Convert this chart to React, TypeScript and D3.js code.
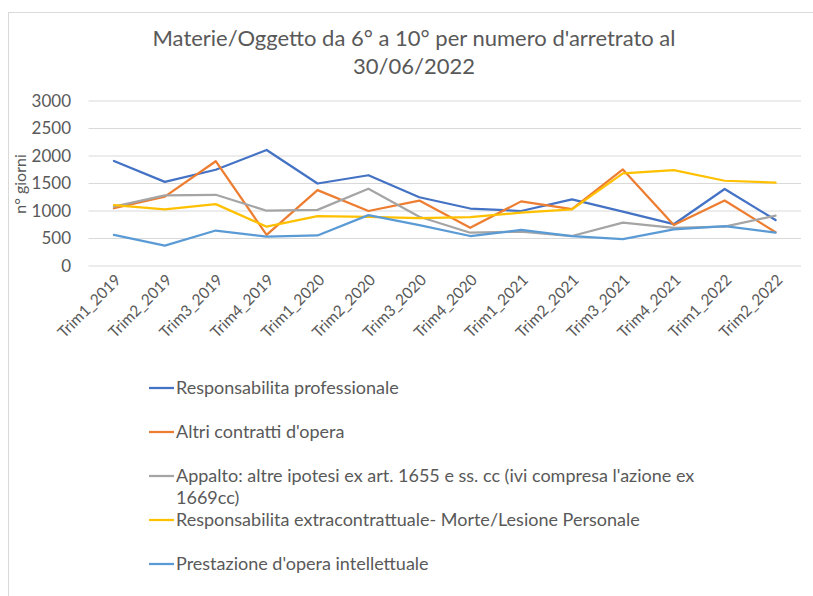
import React, { useEffect, useRef } from 'react';
import * as d3 from 'd3';

const categories = [
  'Trim1_2019', 'Trim2_2019', 'Trim3_2019', 'Trim4_2019',
  'Trim1_2020', 'Trim2_2020', 'Trim3_2020', 'Trim4_2020',
  'Trim1_2021', 'Trim2_2021', 'Trim3_2021', 'Trim4_2021',
  'Trim1_2022', 'Trim2_2022',
];

const responsabilitaProfessionale = [1910, 1530, 1750, 2110, 1500, 1650, 1250, 1045, 1000, 1210, 990, 760, 1400, 835];
const altriContratti = [1050, 1260, 1905, 565, 1380, 1000, 1190, 695, 1175, 1035, 1755, 745, 1190, 615];
const appalto = [1080, 1285, 1295, 1005, 1020, 1405, 895, 605, 625, 545, 790, 695, 715, 915];
const responsabilitaExtra = [1105, 1030, 1125, 715, 905, 895, 870, 890, 970, 1030, 1685, 1745, 1550, 1515];
const prestazioneOpera = [565, 370, 645, 535, 555, 925, 745, 545, 655, 545, 490, 665, 725, 605];

const yTicks = [0, 500, 1000, 1500, 2000, 2500, 3000];

const series = [
  { name: 'Responsabilita professionale', values: responsabilitaProfessionale, color: '#4472C4' },
  { name: 'Altri contratti d\'opera', values: altriContratti, color: '#ED7D31' },
  { name: 'Appalto: altre ipotesi ex art. 1655 e ss. cc (ivi compresa l\'azione ex|1669cc)', values: appalto, color: '#A5A5A5' },
  { name: 'Responsabilita extracontrattuale- Morte/Lesione Personale', values: responsabilitaExtra, color: '#FFC000' },
  { name: 'Prestazione d\'opera intellettuale', values: prestazioneOpera, color: '#5B9BD5' },
];

const legendRows = [388, 432, 476, 520, 564];

export default function App() {
  const svgRef = useRef<SVGSVGElement | null>(null);

  useEffect(() => {
    const width = 813;
    const height = 596;
    const svg = d3.select(svgRef.current);
    svg.selectAll('*').remove();
    const font = 'Lato, "Open Sans", sans-serif';
    const textColor = '#595959';

    svg.append('rect')
      .attr('x', 8.5).attr('y', 12.5)
      .attr('width', width + 10).attr('height', height + 10)
      .attr('fill', '#fff').attr('stroke', '#d9d9d9');

    const x = d3.scaleBand().domain(categories).range([88.5, 801]);
    const y = d3.scaleLinear().domain([0, 3000]).range([266, 101]);

    // title
    const title = svg.append('text')
      .attr('text-anchor', 'middle')
      .attr('font-family', font)
      .attr('font-size', 22)
      .attr('fill', textColor);
    title.append('tspan').attr('x', 414).attr('y', 46).text('Materie/Oggetto da 6° a 10° per numero d\'arretrato al');
    title.append('tspan').attr('x', 414).attr('y', 74).text('30/06/2022');

    // grid
    svg.append('g')
      .selectAll('line')
      .data(yTicks)
      .enter()
      .append('line')
      .attr('x1', 88.5).attr('x2', 801)
      .attr('y1', d => y(d)).attr('y2', d => y(d))
      .attr('stroke', '#d9d9d9').attr('stroke-width', 1);

    svg.append('g')
      .selectAll('text')
      .data(yTicks)
      .enter()
      .append('text')
      .attr('x', 71)
      .attr('y', d => y(d))
      .attr('dy', '0.35em')
      .attr('text-anchor', 'end')
      .attr('font-family', font)
      .attr('font-size', 17)
      .attr('fill', textColor)
      .text(d => d);

    svg.append('text')
      .attr('transform', 'translate(26,184) rotate(-90)')
      .attr('text-anchor', 'middle')
      .attr('font-family', font)
      .attr('font-size', 16)
      .attr('fill', textColor)
      .text('n° giorni');

    // x labels
    svg.append('g')
      .selectAll('text')
      .data(categories)
      .enter()
      .append('text')
      .attr('transform', d => `translate(${(x(d) as number) + x.bandwidth() / 2 + 8},${281}) rotate(-45)`)
      .attr('text-anchor', 'end')
      .attr('font-family', font)
      .attr('font-size', 15.5)
      .attr('fill', textColor)
      .text(d => d);

    const line = d3.line<number>()
      .x((_, i) => (x(categories[i]) as number) + x.bandwidth() / 2)
      .y(d => y(d));

    series.forEach(s => {
      svg.append('path')
        .datum(s.values)
        .attr('d', line)
        .attr('fill', 'none')
        .attr('stroke', s.color)
        .attr('stroke-width', 2.25)
        .attr('stroke-linejoin', 'round')
        .attr('stroke-linecap', 'round');
    });

    // legend
    series.forEach((s, i) => {
      const g = svg.append('g').attr('transform', `translate(0,${legendRows[i]})`);
      g.append('line')
        .attr('x1', 149).attr('x2', 174)
        .attr('y1', 0).attr('y2', 0)
        .attr('stroke', s.color).attr('stroke-width', 2.25);
      const t = g.append('text')
        .attr('font-family', font)
        .attr('font-size', 18)
        .attr('fill', textColor);
      s.name.split('|').forEach((part, j) => {
        t.append('tspan').attr('x', 176).attr('y', j * 22).attr('dy', '0.35em').text(part);
      });
    });
  }, []);

  return (
    <svg
      ref={svgRef}
      width={813}
      height={596}
      style={{ position: 'absolute', left: 0, top: 0, display: 'block' }}
    />
  );
}
